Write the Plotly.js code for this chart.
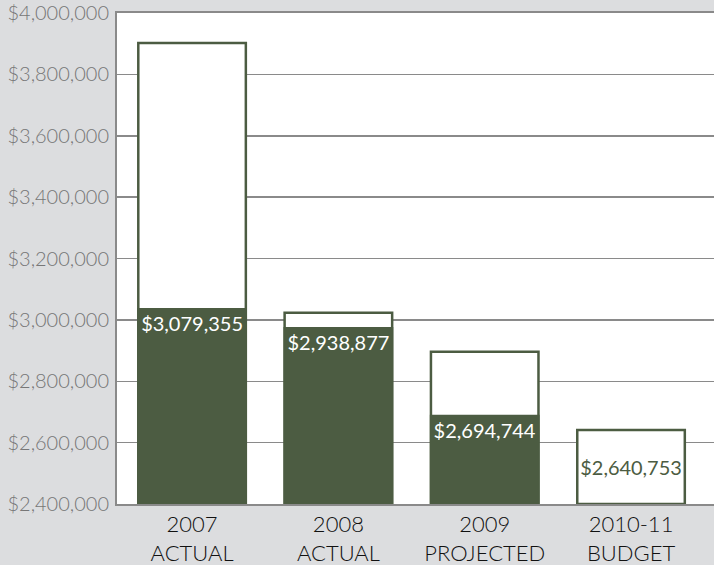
<!DOCTYPE html>
<html>
<head>
<meta charset="utf-8">
<script src="https://cdn.plot.ly/plotly-3.0.1.min.js"></script>
<style>html,body{margin:0;padding:0;background:#dcdddf;}#chart{width:714px;height:565px;}</style>
</head>
<body>
<div id="chart"></div>
<script>
const categories = ["2007<br>ACTUAL", "2008<br>ACTUAL", "2009<br>PROJECTED", "2010-11<br>BUDGET"];
const outlineValues = [3902000, 3023000, 2896000, 2640753];
const filledValues = [3039000, 2977000, 2691000, null];
const filledLabels = ["$3,079,355", "$2,938,877", "$2,694,744", ""];
const outlineLabels = ["", "", "", "$2,640,753"];
const BASE = 2400000;

const GREEN = '#4c5c42';
const FONT = 'Lato, "Open Sans", sans-serif';

const outline = {
  type: 'bar', x: categories,
  y: outlineValues.map(v => v - BASE), base: BASE,
  width: 0.735,
  marker: {color: '#ffffff', line: {color: GREEN, width: 2.5}},
  text: outlineLabels, textposition: 'inside', insidetextanchor: 'middle',
  textfont: {color: GREEN, size: 20, family: FONT, weight: 400},
  hoverinfo: 'skip'
};
const filled = {
  type: 'bar', x: categories,
  y: filledValues.map(v => v === null ? null : v - BASE), base: BASE,
  width: 0.75,
  marker: {color: GREEN, line: {width: 0}},
  text: filledLabels, textposition: 'inside', insidetextanchor: 'end',
  textfont: {color: '#ffffff', size: 20, family: FONT, weight: 400},
  hoverinfo: 'skip'
};

const layout = {
  width: 714, height: 565,
  margin: {l: 117, r: 0, t: 13, b: 61, pad: 0},
  paper_bgcolor: '#dcdddf', plot_bgcolor: '#ffffff',
  barmode: 'overlay', showlegend: false,
  xaxis: {
    type: 'category', range: [-0.513, 3.567],
    showline: true, mirror: true, linecolor: '#8a8a8a', linewidth: 2,
    showgrid: false, ticks: '', tickfont: {color: '#111111', size: 22, family: FONT, weight: 300},
    ticklabelstandoff: 0,
    fixedrange: true
  },
  yaxis: {
    range: [2400000, 4000000], dtick: 200000, tick0: 2400000,
    tickformat: '$,.0f', ticks: '',
    showline: true, linecolor: '#8a8a8a', linewidth: 2,
    gridcolor: '#8a8a8a', gridwidth: 1.5, zeroline: false,
    tickfont: {color: '#767676', size: 20, family: FONT, weight: 300},
    ticklabelstandoff: 2,
    fixedrange: true
  }
};
Plotly.newPlot('chart', [outline, filled], layout, {displayModeBar: false, staticPlot: true});
</script>
</body>
</html>
